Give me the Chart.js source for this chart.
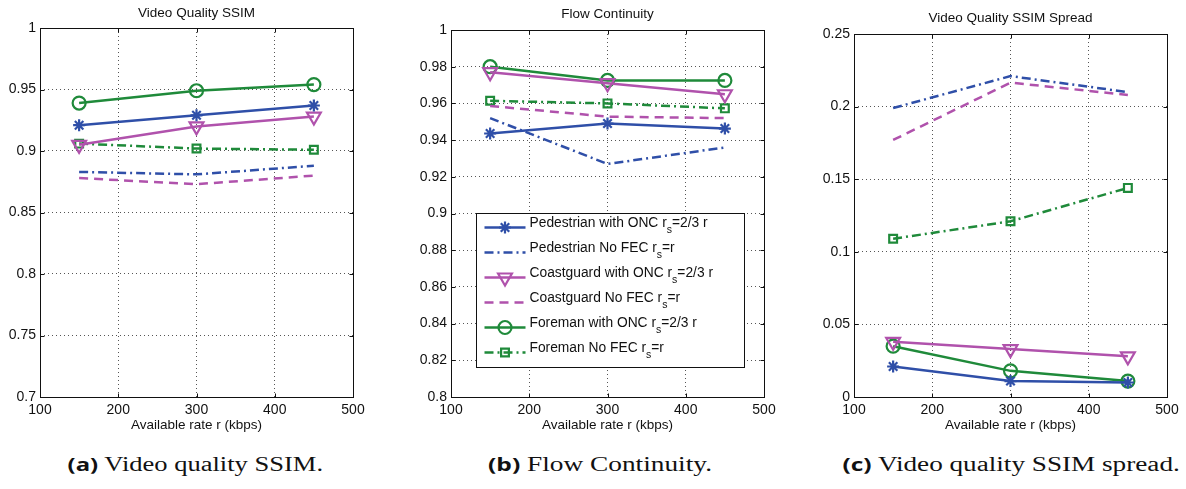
<!DOCTYPE html>
<html>
<head>
<meta charset="utf-8">
<script src="https://cdn.jsdelivr.net/npm/chart.js@4.4.1/dist/chart.umd.min.js"></script>
<style>
  body { margin: 0; background: #fff; }
  #wrap { position: relative; width: 1186px; height: 489px; overflow: hidden; }
  .box { position: absolute; top: 0; height: 440px; }
  .cap { position: absolute; top: 451px; white-space: nowrap; font-family: 'Liberation Serif', serif; font-size: 20px; line-height: 26px; color: #111; transform-origin: center; }
  .cap b { font-family: 'Open Sans', sans-serif; font-weight: 700; font-size: 18px; }
</style>
</head>
<body>
<div id="wrap">
  <div class="box" style="left:0px;width:395px"><canvas id="ssimChart"></canvas></div>
  <div class="box" style="left:400px;width:395px"><canvas id="contChart"></canvas></div>
  <div class="box" style="left:800px;width:386px"><canvas id="spreadChart"></canvas></div>
  <div class="cap" id="capA" data-cx="195" data-w="256"><b>(a)</b> Video quality SSIM.</div>
  <div class="cap" id="capB" data-cx="600" data-w="224"><b>(b)</b> Flow Continuity.</div>
  <div class="cap" id="capC" data-cx="1011" data-w="337"><b>(c)</b> Video quality SSIM spread.</div>
</div>
<script>
// x values (kbps)
var rates = [150, 300, 450];
var xTicks = [100, 200, 300, 400, 500];

var seriesNames = [
    'Pedestrian with ONC r_s=2/3 r',
    'Pedestrian No FEC r_s=r',
    'Coastguard with ONC r_s=2/3 r',
    'Coastguard No FEC r_s=r',
    'Foreman with ONC r_s=2/3 r',
    'Foreman No FEC r_s=r'
];

// (a) video quality SSIM
var pedOncSsim     = [0.921, 0.929, 0.937];
var pedNoFecSsim   = [0.883, 0.881, 0.888];
var coastOncSsim   = [0.905, 0.920, 0.928];
var coastNoFecSsim = [0.878, 0.873, 0.880];
var foreOncSsim    = [0.939, 0.949, 0.954];
var foreNoFecSsim  = [0.906, 0.902, 0.901];
var ssimTicks = [0.7, 0.75, 0.8, 0.85, 0.9, 0.95, 1];

// (b) flow continuity
var pedOncCont     = [0.9436, 0.949, 0.9463];
var pedNoFecCont   = [0.952, 0.927, 0.936];
var coastOncCont   = [0.977, 0.971, 0.965];
var coastNoFecCont = [0.9586, 0.9528, 0.952];
var foreOncCont    = [0.980, 0.9725, 0.9725];
var foreNoFecCont  = [0.9614, 0.960, 0.9573];
var contTicks = [0.8, 0.82, 0.84, 0.86, 0.88, 0.9, 0.92, 0.94, 0.96, 0.98, 1];

// (c) SSIM spread
var pedOncSpread     = [0.021, 0.011, 0.010];
var pedNoFecSpread   = [0.199, 0.221, 0.210];
var coastOncSpread   = [0.038, 0.033, 0.028];
var coastNoFecSpread = [0.177, 0.2165, 0.208];
var foreOncSpread    = [0.035, 0.018, 0.011];
var foreNoFecSpread  = [0.109, 0.121, 0.144];
var spreadTicks = [0, 0.05, 0.1, 0.15, 0.2, 0.25];

// line / marker looks, one per series
var BLUE = '#2f4fa8', MAGENTA = '#b052ac', GREEN = '#1f8a3a';
var seriesStyles = [
    { color: BLUE,    dash: [],             marker: 'star',     radius: 6,   rot: 0 },
    { color: BLUE,    dash: [9, 4, 2, 4],   marker: false,      radius: 0,   rot: 0 },
    { color: MAGENTA, dash: [],             marker: 'triangle', radius: 8,   rot: 180 },
    { color: MAGENTA, dash: [9, 6],         marker: false,      radius: 0,   rot: 0 },
    { color: GREEN,   dash: [],             marker: 'circle',   radius: 6.5, rot: 0 },
    { color: GREEN,   dash: [9, 4, 2, 4],   marker: 'rect',     radius: 5.5, rot: 0 }
];

var FONT = "'Liberation Sans', Arial, sans-serif";

function buildDatasets(seriesList) {
    return seriesList.map(function (vals, i) {
        var st = seriesStyles[i];
        return {
            label: seriesNames[i],
            data: vals.map(function (v, k) { return { x: rates[k], y: v }; }),
            borderColor: st.color,
            borderWidth: 2.5,
            borderDash: st.dash,
            pointStyle: st.marker || 'circle',
            pointRadius: st.radius,
            pointRotation: st.rot,
            pointBorderWidth: 2.2,
            pointBorderColor: st.color,
            pointBackgroundColor: 'rgba(0,0,0,0)',
            tension: 0,
            fill: false
        };
    });
}

// matlab style box + inward tick marks
var framePlugin = {
    id: 'frame',
    afterDraw: function (chart) {
        var ctx = chart.ctx, a = chart.chartArea;
        var l = Math.round(a.left) + 0.5, r = Math.round(a.right) + 0.5;
        var t = Math.round(a.top) + 0.5, b = Math.round(a.bottom) + 0.5;
        ctx.save();
        ctx.strokeStyle = '#111';
        ctx.lineWidth = 1;
        ctx.setLineDash([]);
        ctx.beginPath();
        chart.scales.x.ticks.forEach(function (tk) {
            var px = Math.round(chart.scales.x.getPixelForValue(tk.value)) + 0.5;
            ctx.moveTo(px, b); ctx.lineTo(px, b - 4);
            ctx.moveTo(px, t); ctx.lineTo(px, t + 4);
        });
        chart.scales.y.ticks.forEach(function (tk) {
            var py = Math.round(chart.scales.y.getPixelForValue(tk.value)) + 0.5;
            ctx.moveTo(l, py); ctx.lineTo(l + 4, py);
            ctx.moveTo(r, py); ctx.lineTo(r - 4, py);
        });
        ctx.stroke();
        ctx.strokeRect(l, t, r - l, b - t);
        ctx.restore();
    }
};

// legend inside the plot, with subscript s
var legendPlugin = {
    id: 'matLegend',
    afterDatasetsDraw: function (chart) {
        var ctx = chart.ctx, a = chart.chartArea;
        var x0 = Math.round(a.left) + 25.5, y0 = Math.round(a.bottom) - 184 + 0.5;
        var w = 268, h = 154;
        ctx.save();
        ctx.fillStyle = '#fff';
        ctx.fillRect(x0, y0, w, h);
        ctx.strokeStyle = '#111';
        ctx.lineWidth = 1;
        ctx.strokeRect(x0, y0, w, h);
        chart.data.datasets.forEach(function (ds, i) {
            var ly = y0 + 14 + 25 * i;
            ctx.strokeStyle = ds.borderColor;
            ctx.lineWidth = ds.borderWidth;
            ctx.setLineDash(ds.borderDash || []);
            ctx.beginPath();
            ctx.moveTo(x0 + 8, ly);
            ctx.lineTo(x0 + 49, ly);
            ctx.stroke();
            ctx.setLineDash([]);
            if (ds.pointRadius > 0) {
                ctx.fillStyle = 'rgba(0,0,0,0)';
                ctx.lineWidth = ds.pointBorderWidth;
                Chart.helpers.drawPoint(ctx, {
                    pointStyle: ds.pointStyle,
                    rotation: ds.pointRotation,
                    radius: ds.pointRadius,
                    borderWidth: ds.pointBorderWidth
                }, x0 + 28.5, ly);
            }
            var parts = ds.label.split('_s');
            var tx = x0 + 53;
            ctx.fillStyle = '#111';
            ctx.textBaseline = 'alphabetic';
            ctx.font = '13.8px ' + FONT;
            ctx.fillText(parts[0], tx, ly - 1);
            tx += ctx.measureText(parts[0]).width;
            ctx.font = '10.5px ' + FONT;
            ctx.fillText('s', tx, ly + 5.5);
            tx += ctx.measureText('s').width;
            ctx.font = '13.8px ' + FONT;
            ctx.fillText(parts[1], tx, ly - 1);
        });
        ctx.restore();
    }
};

function makeChart(id, title, seriesList, yTicks, axisW, padRight, titlePad, withLegend) {
    var ctx = document.getElementById(id).getContext('2d');
    return new Chart(ctx, {
        type: 'line',
        data: { datasets: buildDatasets(seriesList) },
        options: {
            responsive: true,
            maintainAspectRatio: false,
            animation: false,
            events: [],
            layout: { padding: { left: 0, right: padRight, top: 0, bottom: 0 } },
            scales: {
                x: {
                    type: 'linear',
                    min: xTicks[0],
                    max: xTicks[xTicks.length - 1],
                    afterBuildTicks: function (s) { s.ticks = xTicks.map(function (v) { return { value: v }; }); },
                    afterFit: function (s) { s.height = 43; },
                    ticks: { color: '#111', padding: 5, font: { family: FONT, size: 14 }, maxRotation: 0 },
                    grid: { color: '#555', lineWidth: 1, drawTicks: false },
                    border: { display: false, dash: [1, 3] },
                    title: { display: true, text: 'Available rate r (kbps)', color: '#111',
                             font: { family: FONT, size: 13.5 }, padding: { top: 2, bottom: 7 } }
                },
                y: {
                    min: yTicks[0],
                    max: yTicks[yTicks.length - 1],
                    afterBuildTicks: function (s) { s.ticks = yTicks.map(function (v) { return { value: v }; }); },
                    afterFit: function (s) { s.width = axisW; },
                    ticks: {
                        color: '#111', padding: 4, font: { family: FONT, size: 14 },
                        callback: function (v) { return String(+v.toFixed(3)); }
                    },
                    grid: { color: '#555', lineWidth: 1, drawTicks: false },
                    border: { display: false, dash: [1, 3] }
                }
            },
            plugins: {
                legend: { display: false },
                tooltip: { enabled: false },
                title: {
                    display: true,
                    text: title,
                    fullSize: false,
                    color: '#111',
                    font: { family: FONT, size: 13.5, weight: 'normal' },
                    padding: titlePad
                }
            }
        },
        plugins: withLegend ? [framePlugin, legendPlugin] : [framePlugin]
    });
}

makeChart('ssimChart', 'Video Quality SSIM',
    [pedOncSsim, pedNoFecSsim, coastOncSsim, coastNoFecSsim, foreOncSsim, foreNoFecSsim],
    ssimTicks, 40, 42, { top: 5, bottom: 6.8 }, false);

makeChart('contChart', 'Flow Continuity',
    [pedOncCont, pedNoFecCont, coastOncCont, coastNoFecCont, foreOncCont, foreNoFecCont],
    contTicks, 51, 31, { top: 6, bottom: 7.8 }, true);

makeChart('spreadChart', 'Video Quality SSIM Spread',
    [pedOncSpread, pedNoFecSpread, coastOncSpread, coastNoFecSpread, foreOncSpread, foreNoFecSpread],
    spreadTicks, 54, 19, { top: 10, bottom: 7.8 }, false);

// stretch captions to the reference widths
document.querySelectorAll('.cap').forEach(function (el) {
    var w = el.offsetWidth;
    var target = +el.dataset.w, cx = +el.dataset.cx;
    el.style.left = (cx - w / 2) + 'px';
    el.style.transform = 'scaleX(' + (target / w).toFixed(3) + ')';
});
</script>
</body>
</html>
